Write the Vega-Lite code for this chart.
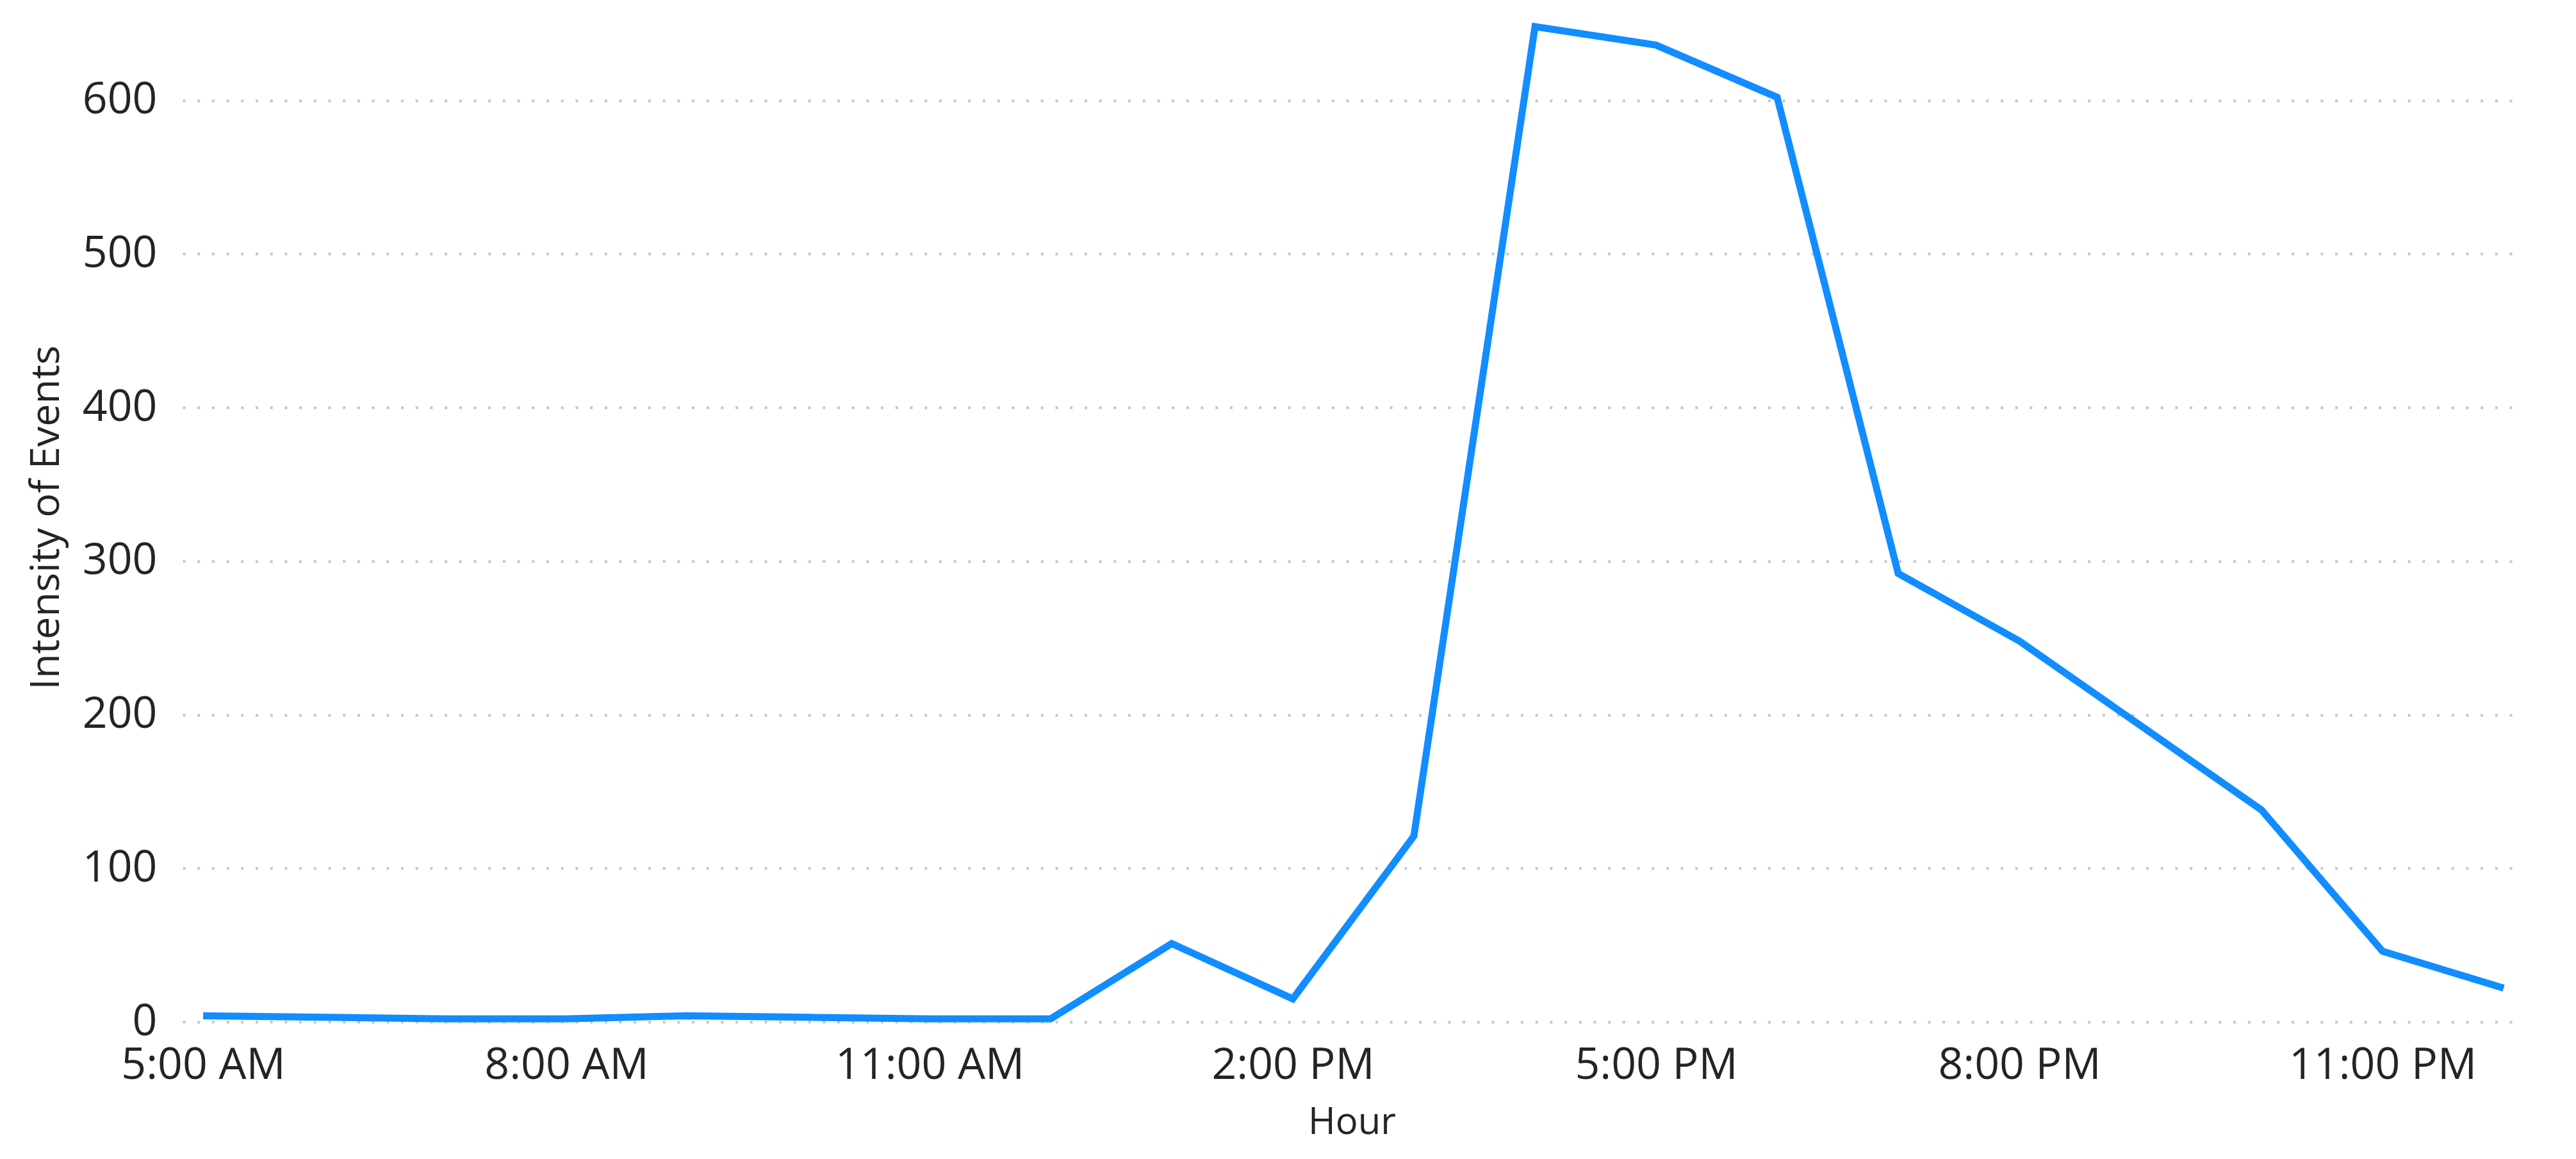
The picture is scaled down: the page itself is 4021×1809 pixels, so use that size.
{
  "$schema": "https://vega.github.io/schema/vega-lite/v6.json",
  "width": 3650,
  "height": 1575,
  "autosize": {"type": "none"},
  "padding": {"left": 285, "top": 20, "right": 86, "bottom": 214},
  "background": "white",
  "config": {
    "view": {"stroke": null},
    "font": "Open Sans",
    "axis": {
      "domain": false,
      "ticks": false,
      "tickSize": 0,
      "labelFont": "Open Sans",
      "titleFont": "Open Sans",
      "labelColor": "#252423",
      "titleColor": "#252423",
      "titleFontWeight": "normal",
      "labelLimit": 0,
      "gridColor": "#C4C4C4",
      "gridDash": [4, 18.7],
      "gridWidth": 4
    }
  },
  "data": {
    "values": [
      {"hour": "2024-01-01T05:00:00", "intensity": 4},
      {"hour": "2024-01-01T06:00:00", "intensity": 3},
      {"hour": "2024-01-01T07:00:00", "intensity": 2},
      {"hour": "2024-01-01T08:00:00", "intensity": 2},
      {"hour": "2024-01-01T09:00:00", "intensity": 4},
      {"hour": "2024-01-01T10:00:00", "intensity": 3},
      {"hour": "2024-01-01T11:00:00", "intensity": 2},
      {"hour": "2024-01-01T12:00:00", "intensity": 2},
      {"hour": "2024-01-01T13:00:00", "intensity": 51},
      {"hour": "2024-01-01T14:00:00", "intensity": 15},
      {"hour": "2024-01-01T15:00:00", "intensity": 121},
      {"hour": "2024-01-01T16:00:00", "intensity": 648},
      {"hour": "2024-01-01T17:00:00", "intensity": 636},
      {"hour": "2024-01-01T18:00:00", "intensity": 602},
      {"hour": "2024-01-01T19:00:00", "intensity": 292},
      {"hour": "2024-01-01T20:00:00", "intensity": 248},
      {"hour": "2024-01-01T21:00:00", "intensity": 193},
      {"hour": "2024-01-01T22:00:00", "intensity": 138},
      {"hour": "2024-01-01T23:00:00", "intensity": 46},
      {"hour": "2024-01-02T00:00:00", "intensity": 22}
    ]
  },
  "mark": {"type": "line", "color": "#118DFF", "strokeWidth": 11, "strokeJoin": "miter", "strokeCap": "butt"},
  "encoding": {
    "x": {
      "field": "hour",
      "type": "temporal",
      "title": "Hour",
      "scale": {
        "domain": [
          {"year": 2024, "month": 1, "date": 1, "hours": 4, "minutes": 49, "seconds": 50},
          {"year": 2024, "month": 1, "date": 2, "hours": 0, "minutes": 8, "seconds": 34}
        ]
      },
      "axis": {
        "grid": false,
        "values": [
          {"year": 2024, "month": 1, "date": 1, "hours": 5},
          {"year": 2024, "month": 1, "date": 1, "hours": 8},
          {"year": 2024, "month": 1, "date": 1, "hours": 11},
          {"year": 2024, "month": 1, "date": 1, "hours": 14},
          {"year": 2024, "month": 1, "date": 1, "hours": 17},
          {"year": 2024, "month": 1, "date": 1, "hours": 20},
          {"year": 2024, "month": 1, "date": 1, "hours": 23}
        ],
        "format": "%-I:%M %p",
        "labelFontSize": 68,
        "labelPadding": 34,
        "labelFlush": false,
        "labelOverlap": false,
        "titleFontSize": 58,
        "titlePadding": 26
      }
    },
    "y": {
      "field": "intensity",
      "type": "quantitative",
      "title": "Intensity of Events",
      "scale": {"domain": [0, 657], "nice": false, "zero": true},
      "axis": {
        "values": [0, 100, 200, 300, 400, 500, 600],
        "labelFontSize": 68,
        "labelPadding": 40,
        "titleFontSize": 63,
        "titlePadding": 24
      }
    }
  }
}
